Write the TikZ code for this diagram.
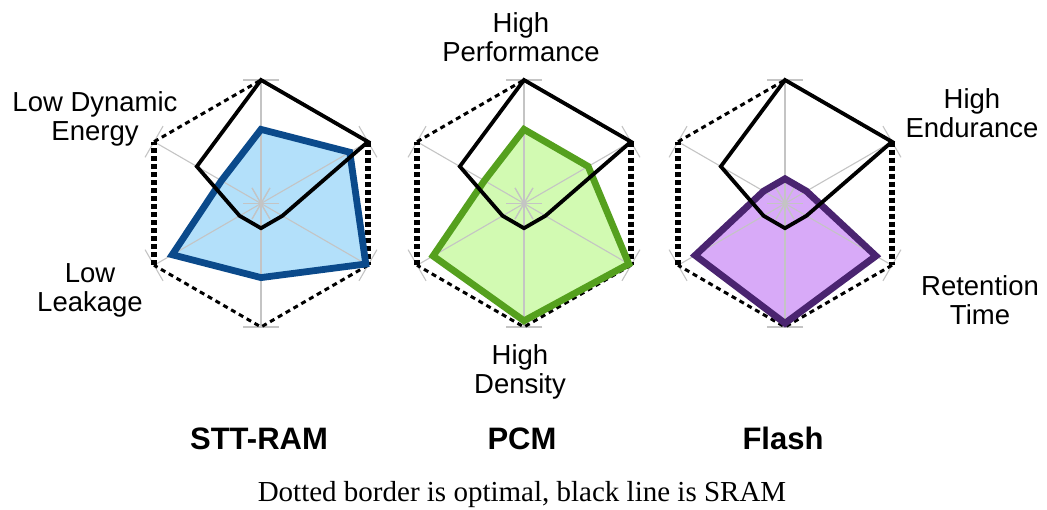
\documentclass[tikz,border=0pt]{standalone}
\usepackage{fontspec}
\setmainfont{Liberation Serif}
\newfontfamily\labelfont{Liberation Sans}
\usetikzlibrary{calc}

\definecolor{axisgrey}{HTML}{C4C4C4}
\definecolor{sttfill}{HTML}{B3E0FA}
\definecolor{sttline}{HTML}{0B4A8B}
\definecolor{pcmfill}{HTML}{D2FAB2}
\definecolor{pcmline}{HTML}{55A01E}
\definecolor{flashfill}{HTML}{D8AAF8}
\definecolor{flashline}{HTML}{4A2470}

\tikzset{
  axisline/.style={draw=axisgrey, line width=1.1pt},
  optslant/.style={draw=black, line width=3pt, dash pattern=on 5pt off 4pt},
  optvert/.style={draw=black, line width=5.5pt, dash pattern=on 5pt off 3pt},
  sramline/.style={draw=black, line width=3.8pt},
  techline/.style={draw=#1, line width=6.8pt},
  axislabel/.style={font=\labelfont\fontsize{27.5}{29}\selectfont, align=center, anchor=north, inner sep=0pt},
  techname/.style={font=\labelfont\bfseries\fontsize{31}{33}\selectfont, anchor=base, inner sep=0pt},
}

% radius of the outer hexagon
\newcommand\radarR{123.5}
% polygon over the six axes: performance, endurance, retention, density, leakage, dynamic energy
\newcommand\radarpoly[7]{%
  \path[#1] (90:{#2*\radarR}) -- (30:{#3*\radarR}) -- (-30:{#4*\radarR})
    -- (-90:{#5*\radarR}) -- (210:{#6*\radarR}) -- (150:{#7*\radarR}) -- cycle;}
% grey axes with end ticks
\newcommand\radaraxes{%
  \foreach \a in {90,30,-30,-90,210,150}{
    \draw[axisline] (0,0) -- (\a:\radarR);
    \draw[axisline] ($(\a:\radarR)+({\a+90}:18)$) -- ($(\a:\radarR)+({\a-90}:18)$);
    \draw[axisline] ({\a+90}:18) -- ({\a-90}:18);
  }}
% dashed hexagon of the optimal values
\newcommand\radaroptimal{%
  \draw[optslant] (150:\radarR) -- (90:\radarR) -- (30:\radarR);
  \draw[optslant] (-30:\radarR) -- (-90:\radarR) -- (210:\radarR);
  \draw[optvert] (30:\radarR) -- (-30:\radarR);
  \draw[optvert] (210:\radarR) -- (150:\radarR);}
% one complete chart
\newcommand\radarchart[8]{%
  \radarpoly{fill=#1}{#3}{#4}{#5}{#6}{#7}{#8}
  \radaraxes
  \radaroptimal
  \radarpoly{techline=#2}{#3}{#4}{#5}{#6}{#7}{#8}
  \radarpoly{sramline}{1}{1}{0.2}{0.2}{0.2}{0.6}}

\begin{document}
\begin{tikzpicture}[x=1pt, y=1pt]
  \useasboundingbox (0,0) rectangle (1047,510);

  \begin{scope}[shift={(261,306.5)}]
    \radarchart{sttfill}{sttline}{0.6}{0.83}{0.98}{0.6}{0.83}{0.37}
  \end{scope}
  \begin{scope}[shift={(524,306.5)}]
    \radarchart{pcmfill}{pcmline}{0.6}{0.6}{0.98}{0.95}{0.85}{0.37}
  \end{scope}
  \begin{scope}[shift={(785,306.5)}]
    \radarchart{flashfill}{flashline}{0.2}{0.2}{0.85}{0.97}{0.84}{0.2}
  \end{scope}

  % axis labels
  \node[axislabel] (perf) at (521,497.7) {High\\Performance};
  \node[axislabel] (dyn)  at (95,418.7)  {Low Dynamic\\Energy};
  \node[axislabel] (endu) at (972,421.7) {High\\Endurance};
  \node[axislabel] (leak) at (90,246.7)  {Low\\Leakage};
  \node[axislabel] (ret)  at (980,234.7) {Retention\\Time};
  \node[axislabel] (dens) at (520,165.7) {High\\Density};

  % technology names
  \node[techname] (stt)   at (259,60) {STT-RAM};
  \node[techname] (pcm)   at (522,60) {PCM};
  \node[techname] (flash) at (783,60) {Flash};

  % caption
  \node[anchor=base, inner sep=0pt, font=\fontsize{29}{31}\selectfont] (caption) at (522,8)
    {Dotted border is optimal, black line is SRAM};
\end{tikzpicture}
\end{document}
